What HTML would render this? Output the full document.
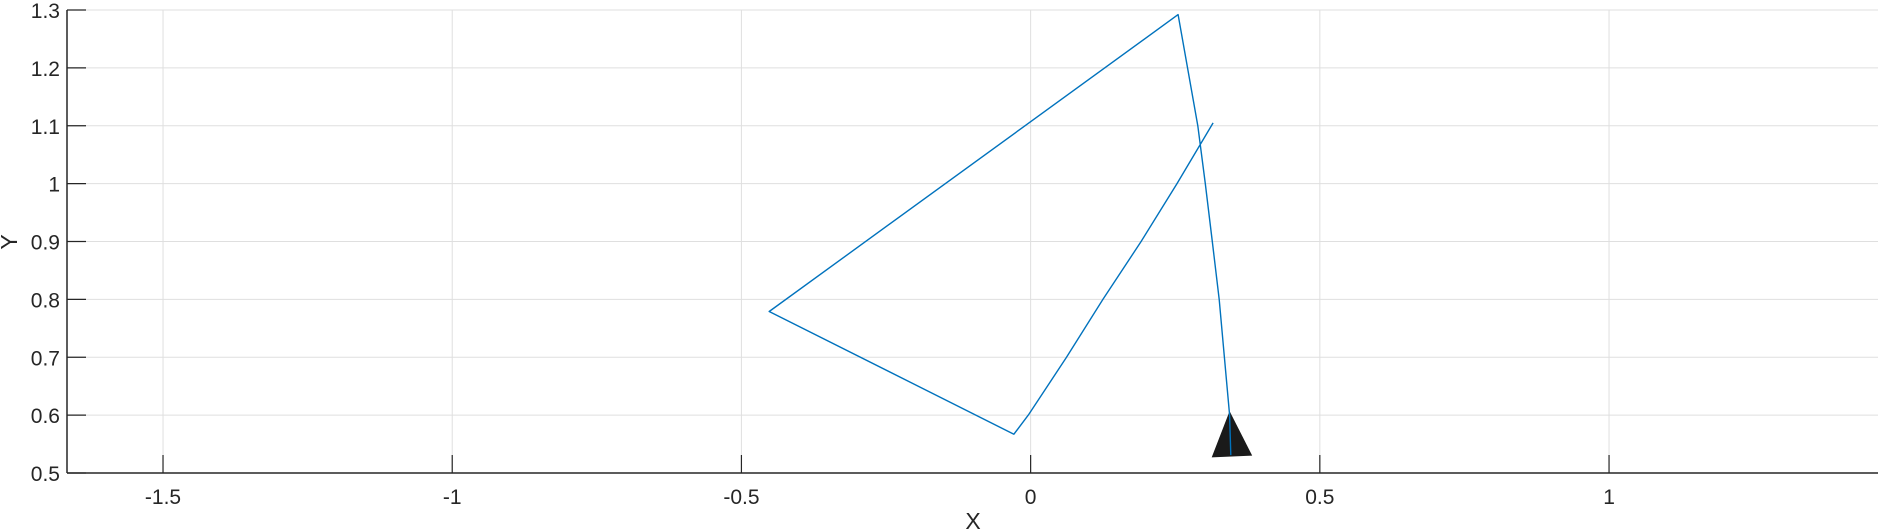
<!DOCTYPE html>
<html><head><meta charset="utf-8"><style>
html,body{margin:0;padding:0;background:#fff;}
svg{display:block;font-family:"Liberation Sans",Arial,sans-serif;}
</style></head><body>
<svg id="chart" width="1881" height="531" viewBox="0 0 1881 531" xmlns="http://www.w3.org/2000/svg">
<g id="grid"></g>
<g id="series"></g>
<g id="axes"></g>
<text x="973" y="529" font-size="23" fill="#262626" text-anchor="middle">X</text>
<text x="0" y="0" font-size="23" fill="#262626" text-anchor="middle" transform="translate(17,242) rotate(-90)">Y</text>
</svg>
<script>
const xTicks = [-1.5, -1, -0.5, 0, 0.5, 1];
const xTickLabels = ["-1.5", "-1", "-0.5", "0", "0.5", "1"];
const yTicks = [0.5, 0.6, 0.7, 0.8, 0.9, 1.0, 1.1, 1.2, 1.3];
const yTickLabels = ["0.5", "0.6", "0.7", "0.8", "0.9", "1", "1.1", "1.2", "1.3"];
const pathX = [0.3155, 0.253, 0.191, 0.125, 0.062, -0.004, -0.029, -0.452, 0.255, 0.281, 0.289, 0.302, 0.314, 0.326, 0.335, 0.344, 0.346];
const pathY = [1.105, 1.0, 0.9, 0.8, 0.7, 0.6, 0.567, 0.779, 1.292, 1.145, 1.1, 1.0, 0.9, 0.8, 0.7, 0.6, 0.531];
const markerX = [0.344, 0.313, 0.383];
const markerY = [0.607, 0.527, 0.530];

const L = 67, R = 1878, T = 10, B = 473;
const xMin = -1.666, xMax = 1.465, yMin = 0.5, yMax = 1.3;
const sx = v => L + (v - xMin) / (xMax - xMin) * (R - L);
const sy = v => B - (v - yMin) / (yMax - yMin) * (B - T);
const NS = "http://www.w3.org/2000/svg";
function mk(tag, attrs, parent) {
  const e = document.createElementNS(NS, tag);
  for (const k in attrs) e.setAttribute(k, attrs[k]);
  parent.appendChild(e);
  return e;
}
const grid = document.getElementById('grid');
const axes = document.getElementById('axes');
const series = document.getElementById('series');

xTicks.forEach((v, i) => {
  const x = sx(v);
  const g = mk('line', {x1: x, x2: x, y1: T, y2: B, stroke: '#dfdfdf', 'stroke-width': 1}, grid);
  
  
  const t = mk('line', {x1: x, x2: x, y1: B, y2: B - 18, stroke: '#262626', 'stroke-width': 1.2}, axes);
  
  
  const lb = mk('text', {x: x, y: B + 31, 'font-size': 21, fill: '#262626', 'text-anchor': 'middle'}, axes);
  lb.textContent = xTickLabels[i];
  
  
});
yTicks.forEach((v, i) => {
  const y = sy(v);
  const g = mk('line', {x1: L, x2: R, y1: y, y2: y, stroke: '#dfdfdf', 'stroke-width': 1}, grid);
  
  
  const t = mk('line', {x1: L, x2: L + 19, y1: y, y2: y, stroke: '#262626', 'stroke-width': 1.2}, axes);
  
  
  const lb = mk('text', {x: L - 7, y: y + 8, 'font-size': 21, fill: '#262626', 'text-anchor': 'end'}, axes);
  lb.textContent = yTickLabels[i];
  
  
});
const xa = mk('line', {x1: L, x2: R, y1: B, y2: B, stroke: '#262626', 'stroke-width': 1.5}, axes);


const ya = mk('line', {x1: L, x2: L, y1: T, y2: B, stroke: '#262626', 'stroke-width': 1.5}, axes);



const pts = pathX.map((v, i) => sx(v).toFixed(1) + ',' + sy(pathY[i]).toFixed(1)).join(' ');
const mpts = markerX.map((v, i) => sx(v).toFixed(1) + ',' + sy(markerY[i]).toFixed(1)).join(' ');
const mk1 = mk('polygon', {points: mpts, fill: '#1a1a1a'}, series);


const pl = mk('polyline', {points: pts, fill: 'none', stroke: '#0072BD', 'stroke-width': 1.4, 'stroke-linejoin': 'round'}, series);


</script>
</body></html>
